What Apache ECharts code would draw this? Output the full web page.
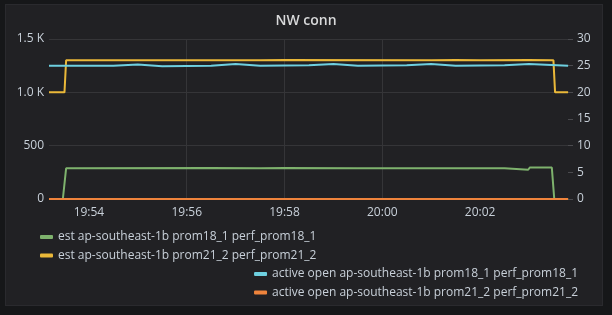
<!DOCTYPE html>
<html>
<head>
<meta charset="utf-8">
<script src="https://cdn.jsdelivr.net/npm/echarts@6/dist/echarts.min.js"></script>
<style>
html,body{margin:0;padding:0;background:#161719;width:612px;height:315px;overflow:hidden;}
#panel{position:absolute;left:5px;top:4px;width:598px;height:302px;background:#212124;border:1px solid #2a2a2e;box-sizing:border-box;}
#chart{position:absolute;left:0;top:0;width:612px;height:315px;}
</style>
</head>
<body>
<div id="panel"></div>
<div id="chart"></div>
<script>
// ---- data (times HH:MM:SS on one day) ----
var titleText = 'NW conn';
var seriesNames = [
  'est ap-southeast-1b prom18_1 perf_prom18_1',
  'est ap-southeast-1b prom21_2 perf_prom21_2',
  'active open ap-southeast-1b prom18_1 perf_prom18_1',
  'active open ap-southeast-1b prom21_2 perf_prom21_2'
];
var timeMin = '19:53:11';
var timeMax = '20:03:54';
var xTickLabels = ['19:54', '19:56', '19:58', '20:00', '20:02'];
var estProm18 = [
  ['19:53:11', 0], ['19:53:28', 0], ['19:53:32', 288], ['19:56:30', 291], ['19:57:30', 288],
  ['19:58:00', 291], ['19:59:30', 288], ['20:02:30', 288], ['20:02:32', 274], ['20:02:59', 274],
  ['20:03:01', 295], ['20:03:28', 295], ['20:03:31', 0], ['20:03:48', 0]
];
var estProm21 = [
  ['19:53:11', 1000], ['19:53:30', 1000], ['19:53:32', 1300], ['19:57:30', 1300], ['19:57:31', 1304],
  ['19:58:00', 1304], ['19:58:01', 1300], ['20:01:00', 1300], ['20:01:01', 1304], ['20:01:30', 1304],
  ['20:01:31', 1300], ['20:02:00', 1300], ['20:02:01', 1304], ['20:03:00', 1304], ['20:03:01', 1300],
  ['20:03:30', 1300], ['20:03:32', 1000], ['20:03:48', 1000]
];
var activeProm18 = [
  ['19:53:11', 25.0], ['19:54:30', 25.2], ['19:55:00', 24.9], ['19:55:30', 25.0], ['19:56:30', 25.3],
  ['19:57:00', 25.0], ['19:57:30', 25.1], ['19:58:30', 25.3], ['19:59:00', 25.0], ['19:59:30', 25.1],
  ['20:00:30', 25.3], ['20:01:00', 25.0], ['20:01:30', 25.1], ['20:02:30', 25.3], ['20:03:00', 25.0],
  ['20:03:48', 25.0]
];
var activeProm21 = [
  ['19:53:11', 0], ['20:03:48', 0]
];
var leftTicks = [0, 500, 1000, 1500];
var rightTicks = [0, 5, 10, 15, 20, 25, 30];

// seconds of the day
function sec(s){
  var p = s.split(':');
  return (+p[0]) * 3600 + (+p[1]) * 60 + (+(p[2] || 0));
}
function fmt(v){
  var h = Math.floor(v / 3600), m = Math.floor((v % 3600) / 60);
  return ('0' + h).slice(-2) + ':' + ('0' + m).slice(-2);
}
function conv(arr){ return arr.map(function(d){ return [sec(d[0]), d[1]]; }); }

var colors = ['#7eb26d', '#eab839', '#6ed0e0', '#ef843c'];
var labelColor = '#c8d0d9';
var font = 'Open Sans';
var xTicks = xTickLabels.map(sec);

var chart = echarts.init(document.getElementById('chart'), null, {renderer: 'canvas'});
chart.setOption({
  backgroundColor: 'transparent',
  animation: false,
  title: {
    text: titleText, left: 'center', top: 9,
    textStyle: {color: '#d8d9da', fontSize: 14, fontWeight: 600, fontFamily: font}
  },
  legend: [{
    data: seriesNames.slice(0, 2), orient: 'vertical', left: 40, top: 230, padding: 0,
    itemGap: 4.6, itemWidth: 13, itemHeight: 4, icon: 'roundRect', itemStyle: {borderWidth: 0},
    textStyle: {color: labelColor, fontSize: 12, fontFamily: font, lineHeight: 14},
    selectedMode: false
  }, {
    data: seriesNames.slice(2), orient: 'vertical', right: 34, top: 267, padding: 0, align: 'left',
    itemGap: 4.6, itemWidth: 13, itemHeight: 4, icon: 'roundRect', itemStyle: {borderWidth: 0},
    textStyle: {color: labelColor, fontSize: 12, fontFamily: font, lineHeight: 14},
    selectedMode: false
  }],
  grid: {left: 49, right: 39, top: 39, bottom: 116, containLabel: false},
  xAxis: {
    type: 'value', min: sec(timeMin), max: sec(timeMax),
    axisLine: {show: false},
    axisTick: {show: false, customValues: xTicks},
    splitLine: {show: true, showMinLine: false, showMaxLine: false, lineStyle: {color: '#353538', width: 1}},
    axisLabel: {
      color: labelColor, fontSize: 12, fontFamily: font, margin: 8,
      customValues: xTicks,
      formatter: fmt
    }
  },
  yAxis: [{
    type: 'value', min: leftTicks[0], max: leftTicks[leftTicks.length-1], interval: 500,
    axisLine: {show: false}, axisTick: {show: false},
    splitLine: {show: true, lineStyle: {color: '#353538', width: 1}},
    axisLabel: {
      color: labelColor, fontSize: 12, fontFamily: font, margin: 5,
      formatter: function(v){ return v >= 1000 ? (v/1000).toFixed(1) + ' K' : String(v); }
    }
  }, {
    type: 'value', min: rightTicks[0], max: rightTicks[rightTicks.length-1], interval: 5,
    axisLine: {show: false},
    axisTick: {show: true, inside: true, length: 5, lineStyle: {color: '#4a4a4e'}},
    splitLine: {show: false},
    axisLabel: {color: labelColor, fontSize: 12, fontFamily: font, margin: 4}
  }],
  series: [
    {name: seriesNames[0], type: 'line', yAxisIndex: 0, data: conv(estProm18), showSymbol: false, symbol: 'none', lineStyle: {width: 2}, color: colors[0]},
    {name: seriesNames[1], type: 'line', yAxisIndex: 0, data: conv(estProm21), showSymbol: false, symbol: 'none', lineStyle: {width: 2}, color: colors[1]},
    {name: seriesNames[2], type: 'line', yAxisIndex: 1, data: conv(activeProm18), step: 'end', showSymbol: false, symbol: 'none', lineStyle: {width: 2}, color: colors[2]},
    {name: seriesNames[3], type: 'line', yAxisIndex: 1, data: conv(activeProm21), showSymbol: false, symbol: 'none', lineStyle: {width: 2}, color: colors[3]}
  ]
});
</script>
</body>
</html>
